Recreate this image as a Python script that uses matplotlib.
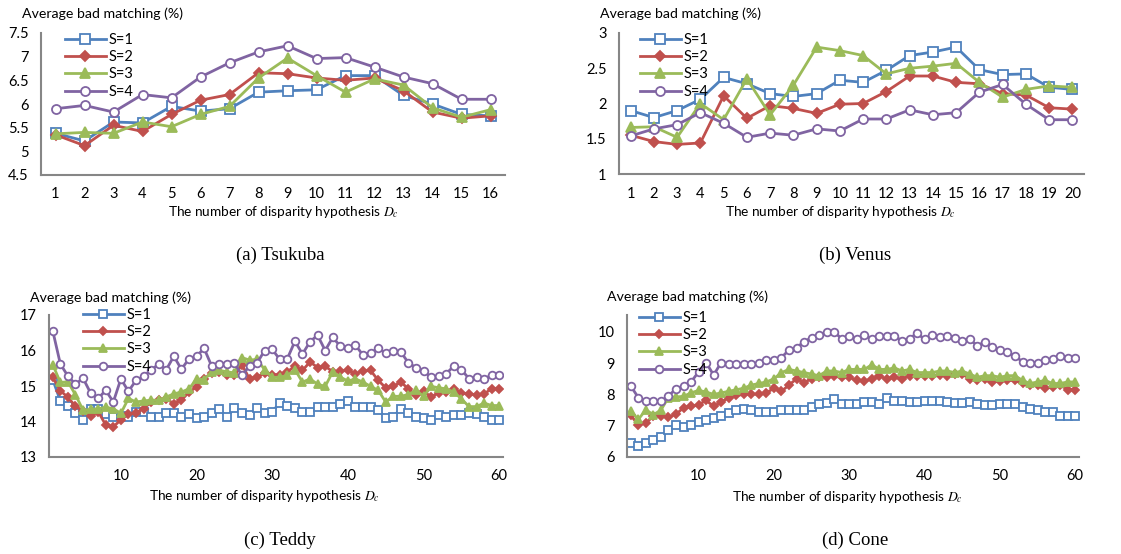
import numpy as np
import matplotlib
matplotlib.use("Agg")
import matplotlib.pyplot as plt
from matplotlib.ticker import FormatStrFormatter

plt.rcParams['font.family'] = ['Lato', 'DejaVu Sans']
plt.rcParams['mathtext.fontset'] = 'stix'

# colores estilo Excel
C1, C2, C3, C4 = '#4F81BD', '#C0504D', '#9BBB59', '#8064A2'
labels = ['S=1', 'S=2', 'S=3', 'S=4']

# (a) Tsukuba, Dc = 1..16
tsu_x = np.arange(1, 17)
tsu_s1 = [5.38, 5.22, 5.62, 5.60, 5.95, 5.85, 5.90, 6.25, 6.28, 6.30, 6.60, 6.60, 6.18, 6.00, 5.78, 5.75]
tsu_s2 = [5.35, 5.12, 5.55, 5.42, 5.78, 6.08, 6.20, 6.66, 6.64, 6.55, 6.50, 6.55, 6.28, 5.83, 5.70, 5.75]
tsu_s3 = [5.37, 5.40, 5.38, 5.62, 5.52, 5.78, 5.95, 6.55, 6.97, 6.60, 6.25, 6.53, 6.40, 5.92, 5.72, 5.88]
tsu_s4 = [5.90, 5.97, 5.83, 6.20, 6.13, 6.57, 6.87, 7.10, 7.23, 6.96, 6.98, 6.78, 6.57, 6.43, 6.10, 6.10]

# (b) Venus, Dc = 1..20
ven_x = np.arange(1, 21)
ven_s1 = [1.90, 1.80, 1.90, 2.06, 2.37, 2.28, 2.14, 2.10, 2.14, 2.33, 2.30, 2.47, 2.68, 2.73, 2.80, 2.48, 2.41, 2.42, 2.23, 2.20]
ven_s2 = [1.55, 1.46, 1.42, 1.44, 2.11, 1.79, 1.97, 1.93, 1.86, 1.99, 2.00, 2.17, 2.39, 2.39, 2.30, 2.28, 2.14, 2.12, 1.94, 1.92]
ven_s3 = [1.66, 1.67, 1.52, 2.00, 1.77, 2.35, 1.84, 2.26, 2.80, 2.75, 2.68, 2.42, 2.50, 2.53, 2.57, 2.30, 2.09, 2.20, 2.25, 2.23]
ven_s4 = [1.54, 1.64, 1.70, 1.87, 1.72, 1.52, 1.58, 1.55, 1.64, 1.61, 1.78, 1.78, 1.91, 1.84, 1.87, 2.16, 2.27, 1.99, 1.77, 1.77]

# (c) Teddy, Dc = 1..60
ted_x = np.arange(1, 61)
ted_s1 = [15.18, 14.58, 14.45, 14.24, 14.04, 14.36, 14.34, 14.20, 14.14, 14.16,
          14.12, 14.26, 14.26, 14.12, 14.14, 14.25, 14.25, 14.14, 14.22, 14.10,
          14.12, 14.24, 14.36, 14.12, 14.38, 14.25, 14.17, 14.38, 14.24, 14.28,
          14.52, 14.45, 14.39, 14.26, 14.28, 14.42, 14.42, 14.40, 14.48, 14.58,
          14.42, 14.40, 14.40, 14.33, 14.10, 14.14, 14.36, 14.24, 14.14, 14.09,
          14.03, 14.17, 14.14, 14.19, 14.19, 14.24, 14.22, 14.14, 14.03, 14.03]
ted_s2 = [15.24, 14.87, 14.68, 14.43, 14.30, 14.15, 14.28, 13.90, 13.85, 14.05,
          14.20, 14.25, 14.36, 14.55, 14.60, 14.64, 14.50, 14.60, 14.83, 14.97,
          15.20, 15.37, 15.40, 15.32, 15.30, 15.60, 15.20, 15.25, 15.37, 15.32,
          15.32, 15.40, 15.56, 15.44, 15.68, 15.52, 15.56, 15.40, 15.42, 15.44,
          15.35, 15.42, 15.44, 15.16, 14.95, 14.99, 15.11, 14.92, 14.74, 14.86,
          14.69, 14.81, 14.83, 14.92, 14.80, 14.78, 14.75, 14.78, 14.92, 14.92]
ted_s3 = [15.60, 15.10, 15.12, 14.75, 14.32, 14.34, 14.36, 14.40, 14.36, 14.23,
          14.65, 14.55, 14.58, 14.60, 14.60, 14.69, 14.78, 14.83, 14.92, 15.20,
          15.18, 15.40, 15.44, 15.40, 15.37, 15.80, 15.73, 15.75, 15.46, 15.24,
          15.25, 15.30, 15.46, 15.11, 15.20, 15.05, 14.99, 15.40, 15.25, 15.14,
          15.20, 15.11, 14.99, 14.88, 14.55, 14.71, 14.71, 14.76, 14.88, 14.71,
          14.99, 14.95, 14.92, 14.83, 14.64, 14.42, 14.42, 14.52, 14.45, 14.45]
ted_s4 = [16.55, 15.62, 15.28, 15.05, 15.22, 14.80, 14.65, 14.88, 14.55, 15.20,
          14.85, 15.16, 15.27, 15.46, 15.61, 15.46, 15.84, 15.47, 15.77, 15.84,
          16.06, 15.56, 15.63, 15.63, 15.65, 15.30, 15.56, 15.65, 16.00, 16.03,
          15.75, 15.77, 16.26, 15.90, 16.25, 16.43, 16.00, 16.37, 16.12, 16.08,
          16.15, 15.87, 15.93, 16.06, 15.93, 15.98, 15.96, 15.65, 15.52, 15.42,
          15.25, 15.28, 15.35, 15.56, 15.46, 15.21, 15.24, 15.21, 15.30, 15.30]

# (d) Cone, Dc = 1..60
con_x = np.arange(1, 61)
con_s1 = [6.45, 6.34, 6.45, 6.53, 6.64, 6.87, 7.01, 6.96, 7.02, 7.12,
          7.17, 7.25, 7.32, 7.40, 7.50, 7.52, 7.50, 7.45, 7.45, 7.45,
          7.50, 7.50, 7.50, 7.50, 7.60, 7.68, 7.72, 7.85, 7.68, 7.70,
          7.70, 7.75, 7.75, 7.70, 7.88, 7.80, 7.78, 7.75, 7.75, 7.80,
          7.80, 7.80, 7.75, 7.72, 7.72, 7.75, 7.70, 7.65, 7.65, 7.70,
          7.70, 7.70, 7.60, 7.55, 7.50, 7.45, 7.45, 7.30, 7.32, 7.32]
con_s2 = [7.33, 7.03, 7.09, 7.30, 7.30, 7.28, 7.36, 7.58, 7.62, 7.67,
          7.81, 7.62, 7.75, 7.90, 7.97, 8.00, 8.02, 8.00, 8.05, 8.20,
          8.10, 8.30, 8.50, 8.38, 8.50, 8.55, 8.55, 8.58, 8.55, 8.55,
          8.45, 8.42, 8.50, 8.58, 8.50, 8.55, 8.50, 8.60, 8.60, 8.60,
          8.60, 8.62, 8.60, 8.65, 8.65, 8.50, 8.45, 8.50, 8.40, 8.42,
          8.45, 8.45, 8.35, 8.30, 8.30, 8.20, 8.25, 8.30, 8.15, 8.15]
con_s3 = [7.47, 7.20, 7.51, 7.35, 7.50, 7.90, 7.92, 7.94, 8.05, 8.13,
          8.08, 8.00, 8.05, 8.10, 8.15, 8.20, 8.30, 8.35, 8.40, 8.50,
          8.70, 8.80, 8.75, 8.70, 8.65, 8.60, 8.75, 8.75, 8.70, 8.80,
          8.80, 8.80, 8.95, 8.80, 8.80, 8.85, 8.75, 8.80, 8.70, 8.70,
          8.70, 8.75, 8.75, 8.70, 8.75, 8.65, 8.55, 8.60, 8.60, 8.55,
          8.60, 8.60, 8.45, 8.35, 8.40, 8.45, 8.35, 8.35, 8.40, 8.40]
con_s4 = [8.27, 7.90, 7.78, 7.78, 7.78, 7.95, 8.18, 8.27, 8.40, 8.72,
          9.02, 8.62, 9.02, 8.98, 8.98, 8.98, 8.96, 9.00, 9.10, 9.10,
          9.18, 9.42, 9.50, 9.68, 9.82, 9.90, 10.00, 10.00, 9.78, 9.86,
          9.78, 9.90, 9.78, 9.86, 9.88, 9.86, 9.72, 9.78, 9.96, 9.76,
          9.90, 9.84, 9.86, 9.82, 9.72, 9.76, 9.56, 9.68, 9.52, 9.42,
          9.36, 9.22, 9.05, 9.02, 9.00, 9.10, 9.12, 9.24, 9.18, 9.18]

W, H = 1121, 554
fig = plt.figure(figsize=(W / 100, H / 100), dpi=100)


def px_axes(x0, x1, ytop, ybot):
    return fig.add_axes([x0 / W, 1 - ybot / H, (x1 - x0) / W, (ybot - ytop) / H])


def dibujar(ax, x, series, ms, lw, ylim, yticks, xlim, xticks, leg_xy):
    estilos = [dict(marker='s', mfc='white', mec=C1, color=C1),
               dict(marker='D', mfc=C2, mec=C2, color=C2),
               dict(marker='^', mfc=C3, mec=C3, color=C3),
               dict(marker='o', mfc='white', mec=C4, color=C4)]
    for y, est, lab in zip(series, estilos, labels):
        m = est['marker']
        size = ms * (0.8 if m == 'D' else 1.0)
        ax.plot(x, y, lw=lw, ms=size, mew=1.3, label=lab, **est)
    ax.set_ylim(*ylim)
    ax.set_yticks(yticks)
    ax.yaxis.set_major_formatter(FormatStrFormatter('%g'))
    ax.set_xlim(*xlim)
    ax.set_xticks(xticks)
    for s in ['top', 'right']:
        ax.spines[s].set_visible(False)
    for s in ['left', 'bottom']:
        ax.spines[s].set_color('#868686')
        ax.spines[s].set_linewidth(1.5)
    ax.tick_params(length=0, labelsize=10.5, colors='black')
    ax.tick_params(axis='y', pad=9)
    ax.tick_params(axis='x', pad=9)
    ax.legend(loc='upper left', bbox_to_anchor=(leg_xy[0] / W, 1 - leg_xy[1] / H),
              bbox_transform=fig.transFigure, frameon=False, fontsize=10.5,
              handlelength=2.8, handletextpad=0.2, labelspacing=0.22, borderpad=0,
              borderaxespad=0)


# (a)
ax = px_axes(41, 505, 33, 175)
dibujar(ax, tsu_x, [tsu_s1, tsu_s2, tsu_s3, tsu_s4], 6.5, 2.0,
        (4.5, 7.5), np.arange(4.5, 7.51, 0.5), (0.5, 16.5), tsu_x, (65, 33))
# (b)
ax = px_axes(619, 1084, 33, 174)
dibujar(ax, ven_x, [ven_s1, ven_s2, ven_s3, ven_s4], 6.5, 2.0,
        (1, 3), np.arange(1, 3.01, 0.5), (0.5, 20.5), ven_x, (640, 33))
# (c)
ax = px_axes(49, 503, 315, 457)
dibujar(ax, ted_x, [ted_s1, ted_s2, ted_s3, ted_s4], 5.5, 2.0,
        (13, 17), [13, 14, 15, 16, 17], (0.5, 60.5), [10, 20, 30, 40, 50, 60], (83, 308))
# (d)
ax = px_axes(627, 1079, 315, 457)
dibujar(ax, con_x, [con_s1, con_s2, con_s3, con_s4], 5.5, 2.0,
        (6, 10.54), [6, 7, 8, 9, 10], (0.5, 60.5), [10, 20, 30, 40, 50, 60], (639, 311))

# titulos de eje y etiquetas
ytitulo = 'Average bad matching (%)'
xtitulo = r'The number of disparity hypothesis $D_c$'
for (tx, ty) in [(22, 14), (600, 14), (30, 298), (607, 297)]:
    fig.text(tx / W, 1 - ty / H, ytitulo, fontsize=10.2, va='center', ha='left')
for (tx, ty) in [(283, 212), (840, 212), (264, 496), (847, 497)]:
    fig.text(tx / W, 1 - ty / H, xtitulo, fontsize=9.8, va='center', ha='center')

captions = ['(a) Tsukuba', '(b) Venus', '(c) Teddy', '(d) Cone']
for cap, (tx, ty) in zip(captions, [(280, 255), (855, 255), (280, 540), (855, 540)]):
    fig.text(tx / W, 1 - ty / H, cap, fontsize=13.5, family='Liberation Serif',
             va='center', ha='center')

fig.savefig('out.png', dpi=100)
